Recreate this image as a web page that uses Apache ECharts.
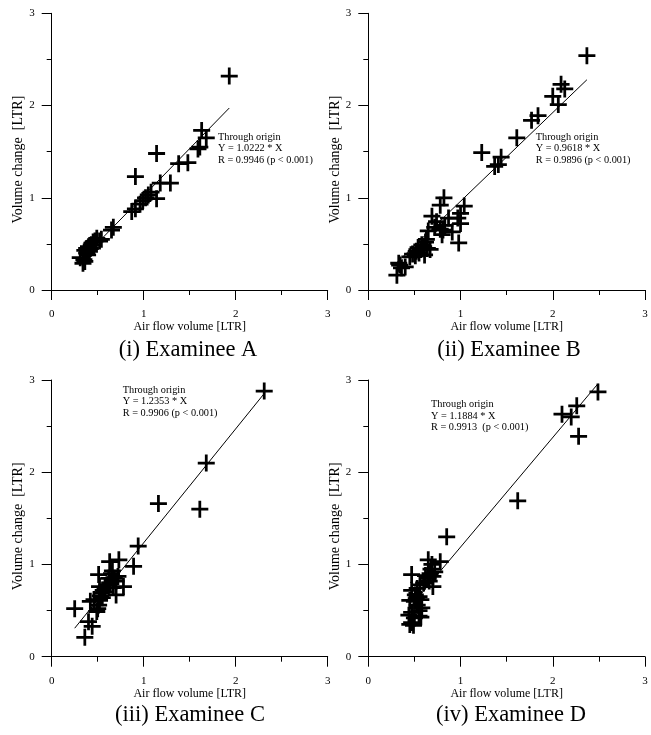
<!DOCTYPE html>
<html>
<head>
<meta charset="utf-8">
<script src="https://cdn.jsdelivr.net/npm/echarts@6/dist/echarts.min.js"></script>
<style>
html,body{margin:0;padding:0;background:#fff;}
#chart{width:651px;height:735px;}
</style>
</head>
<body>
<div id="chart"></div>
<script>
// ---- data ----
var panelNames = ['(i) Examinee A', '(ii) Examinee B', '(iii) Examinee C', '(iv) Examinee D'];
var slopes = [1.0222, 0.9618, 1.2353, 1.1884];
var rValues = ['0.9946', '0.9896', '0.9906', '0.9913'];
var pTexts = ['(p < 0.001)', '(p < 0.001)', '(p < 0.001)', ' (p < 0.001)'];
var tickValues = [0, 1, 2, 3];
var xAxisTitle = 'Air flow volume [LTR]';
var yAxisTitle = 'Volume change  [LTR]';

var dataA = [[0.34,0.29],[0.35,0.33],[0.31,0.35],[0.36,0.31],[0.38,0.40],[0.36,0.43],[0.40,0.47],[0.42,0.45],[0.43,0.49],[0.45,0.52],[0.39,0.38],[0.41,0.42],[0.38,0.45],[0.49,0.56],[0.47,0.53],[0.54,0.55],[0.52,0.53],[0.65,0.65],[0.67,0.68],[0.87,0.85],[0.91,0.88],[0.96,0.93],[0.99,0.97],[1.02,1.00],[1.05,1.03],[1.08,1.06],[1.14,0.99],[1.18,1.16],[1.29,1.16],[0.91,1.23],[1.14,1.48],[1.38,1.37],[1.48,1.38],[1.59,1.53],[1.61,1.55],[1.63,1.73],[1.68,1.65],[1.93,2.32]];
var dataB = [[0.31,0.16],[0.34,0.27],[0.36,0.24],[0.40,0.25],[0.33,0.29],[0.45,0.36],[0.48,0.39],[0.51,0.37],[0.52,0.42],[0.55,0.40],[0.54,0.46],[0.57,0.44],[0.58,0.49],[0.60,0.47],[0.62,0.52],[0.61,0.38],[0.64,0.45],[0.67,0.44],[0.63,0.55],[0.65,0.64],[0.69,0.80],[0.74,0.74],[0.72,0.68],[0.78,0.92],[0.82,1.00],[0.80,0.60],[0.81,0.65],[0.83,0.70],[0.78,0.66],[0.87,0.78],[0.91,0.63],[0.97,0.78],[1.00,0.72],[1.00,0.83],[0.98,0.51],[1.04,0.91],[1.37,1.34],[1.41,1.36],[1.44,1.44],[1.23,1.49],[1.61,1.65],[1.77,1.84],[1.84,1.89],[2.00,2.10],[2.06,2.01],[2.09,2.23],[2.13,2.18],[2.37,2.54]];
var dataC = [[0.25,0.52],[0.36,0.21],[0.40,0.38],[0.44,0.33],[0.42,0.60],[0.46,0.62],[0.49,0.49],[0.51,0.56],[0.50,0.52],[0.52,0.61],[0.53,0.66],[0.54,0.69],[0.52,0.76],[0.51,0.89],[0.56,0.72],[0.55,0.64],[0.57,0.70],[0.58,0.75],[0.60,0.78],[0.62,0.85],[0.63,0.80],[0.65,0.90],[0.66,0.93],[0.68,0.85],[0.70,0.82],[0.72,0.87],[0.67,0.75],[0.63,1.03],[0.73,1.05],[0.70,0.67],[0.78,0.76],[0.89,0.98],[0.94,1.20],[1.16,1.66],[1.61,1.60],[1.68,2.10],[2.31,2.88]];
var dataD = [[0.45,0.35],[0.47,0.37],[0.49,0.34],[0.44,0.45],[0.47,0.48],[0.50,0.42],[0.55,0.44],[0.57,0.43],[0.55,0.50],[0.58,0.53],[0.53,0.56],[0.50,0.60],[0.45,0.61],[0.52,0.63],[0.55,0.65],[0.57,0.62],[0.51,0.67],[0.47,0.72],[0.53,0.74],[0.47,0.89],[0.56,0.78],[0.60,0.80],[0.62,0.88],[0.65,0.85],[0.67,0.90],[0.68,0.95],[0.66,0.82],[0.70,0.87],[0.72,0.92],[0.69,1.00],[0.65,1.05],[0.70,0.76],[0.78,1.03],[0.85,1.30],[1.62,1.69],[2.10,2.63],[2.20,2.60],[2.26,2.72],[2.28,2.39],[2.49,2.87]];
var allData = [dataA, dataB, dataC, dataD];

// ---- layout ----
var FONT = '"Liberation Serif", "Times New Roman", serif';
var grids = [
  {left: 51.7, top: 13.3, width: 276, height: 276.7},
  {left: 368.3, top: 13.3, width: 276.7, height: 276.7},
  {left: 51.7, top: 380, width: 276, height: 276.7},
  {left: 368.3, top: 380, width: 276.7, height: 276.7}
];
var notePos = [[218, 131.5], [535.7, 131.5], [122.7, 384.5], [431, 399]];
var captionPos = [[188, 350], [509, 350], [190, 715], [511, 715]];
var PLUS = 'path://M6.7,0H9.3V6.7H16V9.3H9.3V16H6.7V9.3H0V6.7H6.7Z';

function axisCommon(isX) {
  return {
    type: 'value', min: 0, max: 3, interval: 1,
    splitLine: {show: false},
    axisLine: {show: true, onZero: false, lineStyle: {color: '#000', width: 1}},
    axisTick: {show: true, length: 10, lineStyle: {color: '#000', width: 1}},
    minorTick: {show: true, splitNumber: 2, length: 5, lineStyle: {color: '#000', width: 1}},
    axisLabel: {color: '#000', fontFamily: FONT, fontSize: 11, margin: isX ? 19 : 17,
      formatter: function (v) { return tickValues.indexOf(v) >= 0 ? String(v) : ''; }},
    nameLocation: 'middle',
    nameTextStyle: {color: '#000', fontFamily: FONT, fontSize: isX ? 12 : 14, padding: isX ? 0 : [0, 16, 0, 0]}
  };
}

var xAxes = [], yAxes = [], series = [], graphics = [];
for (var i = 0; i < 4; i++) {
  var xa = axisCommon(true); xa.gridIndex = i; xa.name = xAxisTitle; xa.nameGap = 31;
  var ya = axisCommon(false); ya.gridIndex = i; ya.name = yAxisTitle; ya.nameGap = 24;
  xAxes.push(xa); yAxes.push(ya);
  var d = allData[i];
  var xs = d.map(function (p) { return p[0]; });
  var xmin = Math.min.apply(null, xs), xmax = Math.max.apply(null, xs);
  series.push({
    type: 'scatter', xAxisIndex: i, yAxisIndex: i, data: d,
    symbol: PLUS, symbolSize: 17, itemStyle: {color: '#000', opacity: 1}, z: 3
  });
  series.push({
    type: 'line', xAxisIndex: i, yAxisIndex: i,
    data: [[xmin, slopes[i] * xmin], [xmax, slopes[i] * xmax]],
    symbol: 'none', lineStyle: {color: '#000', width: 1}, z: 2
  });
  graphics.push({
    type: 'text', left: notePos[i][0], top: notePos[i][1],
    style: {text: 'Through origin\nY = ' + slopes[i].toFixed(4) + ' * X\nR = ' + rValues[i] + ' ' + pTexts[i],
      font: '10.3px ' + FONT, fill: '#000', lineHeight: 11.5}
  });
  graphics.push({
    type: 'text', x: captionPos[i][0], y: captionPos[i][1],
    style: {text: panelNames[i], font: '22.5px ' + FONT, fill: '#000', textAlign: 'center', textVerticalAlign: 'middle'}
  });
}

var chart = echarts.init(document.getElementById('chart'), null, {renderer: 'canvas'});
chart.setOption({
  animation: false,
  backgroundColor: '#fff',
  grid: grids,
  xAxis: xAxes,
  yAxis: yAxes,
  series: series,
  graphic: graphics
});
</script>
</body>
</html>
